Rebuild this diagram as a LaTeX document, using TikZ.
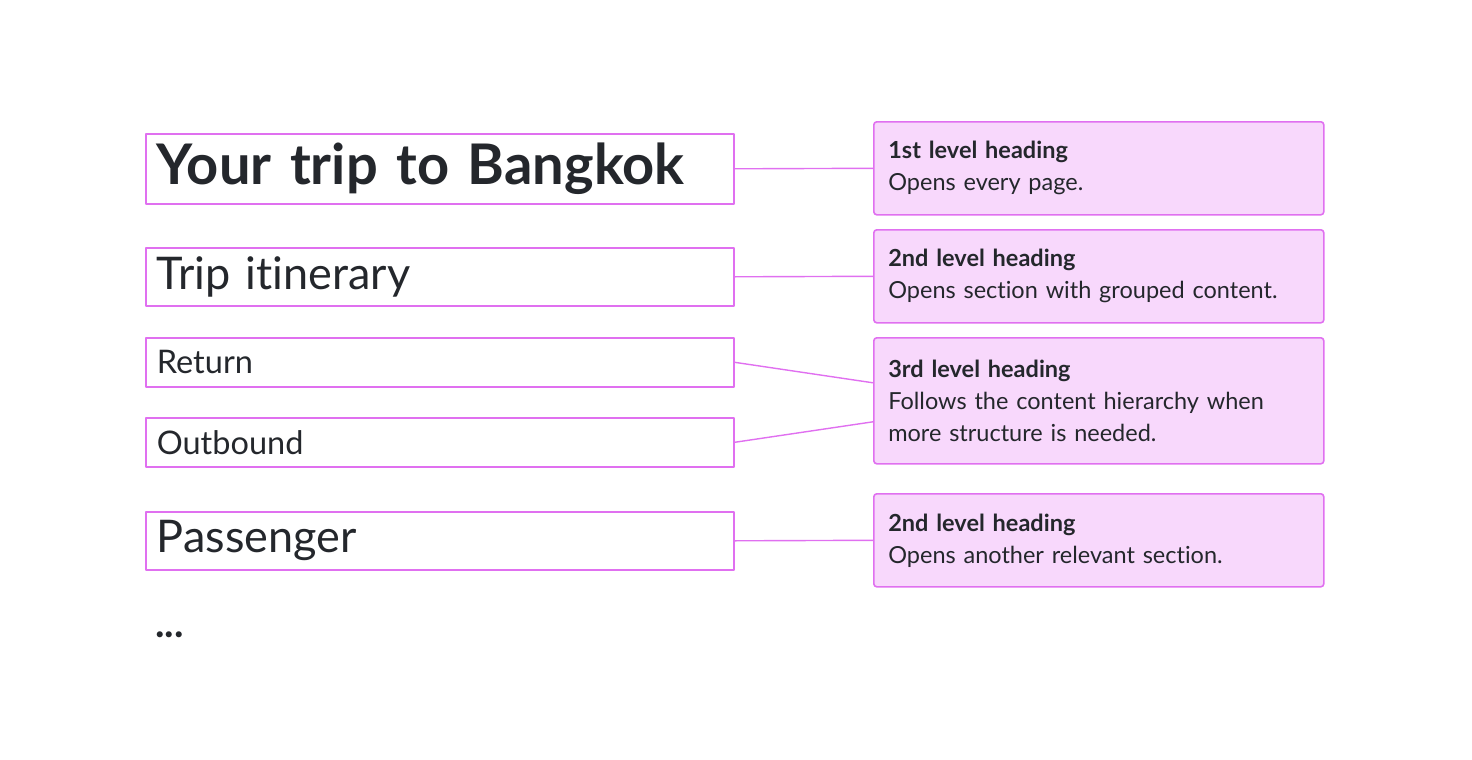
\documentclass[tikz,border=0pt]{standalone}
\usepackage{fontspec}
\setmainfont{Lato}[Ligatures=NoCommon]
\definecolor{ink}{HTML}{24272C}
\definecolor{edge}{HTML}{E070F0}
\definecolor{note}{HTML}{F8D8FC}
\tikzset{
  head/.style={draw=edge, line width=1.6pt, fill=white, anchor=north west, minimum width=588pt,
    text width=566pt, inner xsep=11pt, inner ysep=0pt, align=left, text=ink},
  notebox/.style={draw=edge, line width=1.6pt, fill=note, rounded corners=3pt, anchor=north west,
    minimum width=450pt, text width=421pt, inner xsep=14.5pt, inner ysep=0pt, align=left, text=ink,
    font=\fontsize{23.5}{32}\selectfont},
  link/.style={draw=edge, line width=1.4pt}
}
\begin{document}
\begin{tikzpicture}[x=1pt, y=-1pt, line join=round, line cap=round]
\useasboundingbox (0,0) rectangle (1472,760);
% headings on the page
\node[head, minimum height=70pt, font=\fontsize{56}{62}\selectfont\bfseries] (lvl1) at (145,133) {Your trip to Bangkok};
\node[head, minimum height=58pt, font=\fontsize{45}{50}\selectfont] (itin) at (145,247) {Trip itinerary};
\node[head, minimum height=49pt, font=\fontsize{32.5}{36}\selectfont] (ret) at (145,337) {Return};
\node[head, minimum height=49pt, font=\fontsize{32.5}{36}\selectfont] (outb) at (145,417) {Outbound};
\node[head, minimum height=58pt, font=\fontsize{45}{50}\selectfont] (pass) at (145,511) {Passenger};
\node[anchor=west, inner sep=0pt, text=ink, font=\fontsize{40}{44}\selectfont\bfseries] (more) at (155,635) {...};
% notes
\node[notebox, minimum height=93pt] (n1) at (873,121) {\textbf{1st level heading}\\Opens every page.};
\node[notebox, minimum height=93pt] (n2) at (873,229) {\textbf{2nd level heading}\\Opens section with grouped content.};
\node[notebox, minimum height=126pt] (n3) at (873,337) {\textbf{3rd level heading}\\Follows the content hierarchy when\\more structure is needed.};
\node[notebox, minimum height=93pt] (n4) at (873,493) {\textbf{2nd level heading}\\Opens another relevant section.};
% connectors
\draw[link] (lvl1.east) -- (n1.west);
\draw[link] (itin.east) -- (n2.west);
\draw[link] (ret.east) -- ([yshift=18pt]n3.west);
\draw[link] (outb.east) -- ([yshift=-21pt]n3.west);
\draw[link] (pass.east) -- (n4.west);
\end{tikzpicture}
\end{document}
